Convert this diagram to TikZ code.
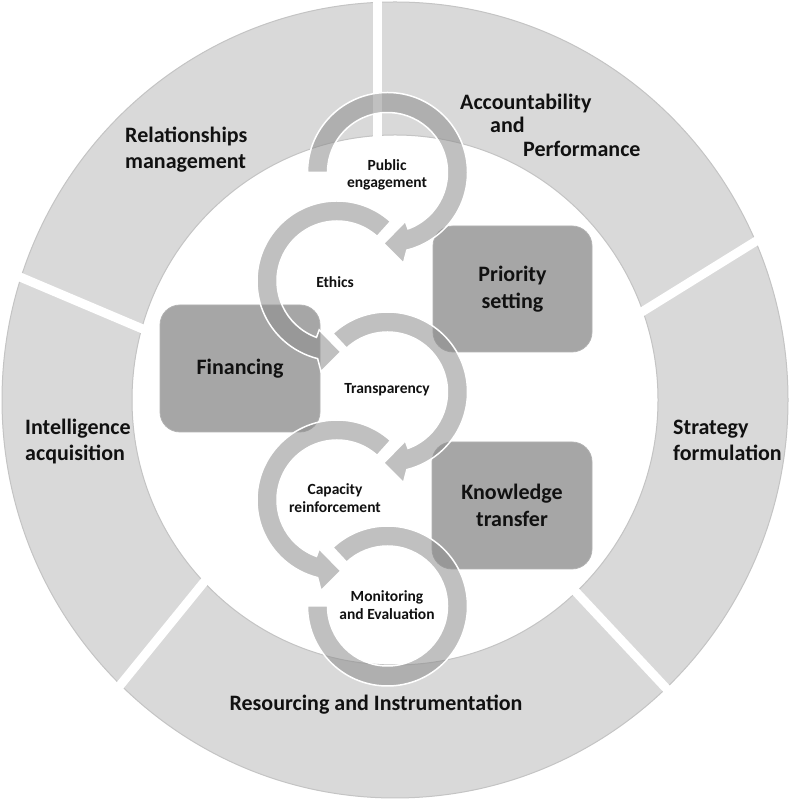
\documentclass[tikz,border=0pt]{standalone}
\usepackage{fontspec}
\setmainfont{Carlito}
\definecolor{ringc}{HTML}{D9D9D9}
\definecolor{ringedge}{HTML}{C4C4C4}
\definecolor{boxc}{HTML}{A6A6A6}
\definecolor{boxedge}{HTML}{B2B2B2}
\definecolor{arrc}{HTML}{8D8D8D}
\definecolor{txt}{HTML}{111111}
\begin{document}
\begin{tikzpicture}[x=1pt,y=1pt,
  ringlabel/.style={font=\bfseries\fontsize{22}{26}\selectfont, text=txt, align=left, inner sep=0pt},
  boxlabel/.style={font=\bfseries\fontsize{22}{27}\selectfont, text=txt, align=center, inner sep=0pt,
     fill=boxc, draw=boxedge, line width=0.8pt, rounded corners=20pt},
  arclabel/.style={font=\bfseries\fontsize{15.5}{17.5}\selectfont, text=txt, align=center, inner sep=0pt},
  arrowshape/.style={fill=arrc, fill opacity=0.55, draw=white, line width=1.5pt, line join=miter},
  gapline/.style={draw=white, line width=9pt},
  cwarrow/.pic={\path[arrowshape] (#1:80) arc[start angle=#1, end angle=-76, radius=80]
      -- (-80:92) -- (-93:71) -- (-70:52) -- (-70:60)
      arc[start angle=-70, end angle=#1, radius=60] -- cycle;},
  ccwarrow/.pic={\path[arrowshape] (#1:80) arc[start angle=#1, end angle=256, radius=80]
      -- (260:92) -- (273:71) -- (250:52) -- (250:60)
      arc[start angle=250, end angle=#1, radius=60] -- cycle;},
  lastarrow/.pic={\path[arrowshape] (133:80) arc[start angle=133, end angle=-180, radius=80]
      -- (180:60) arc[start angle=-180, end angle=133, radius=60] -- cycle;}
]
\useasboundingbox (0,0) rectangle (789,800);
\fill[white] (0,0) rectangle (789,800);

% outer ring
\coordinate (O) at (395,400);
\path[fill=ringc, draw=ringedge, line width=1pt, even odd rule]
  (O) ellipse[x radius=393, y radius=398] (O) ellipse[x radius=263, y radius=265];

% gaps between ring segments
\coordinate (g1a) at (377,806);   \coordinate (g1b) at (377,640);
\coordinate (g2a) at (1.6,530.8); \coordinate (g2b) at (156.4,465.2);
\coordinate (g3a) at (212.6,228.5); \coordinate (g3b) at (109.4,101.5);
\coordinate (g4a) at (563.3,221.6); \coordinate (g4b) at (676.7,100.4);
\coordinate (g5a) at (628,479.5); \coordinate (g5b) at (770,567.5);
\draw[gapline] (g1a) -- (g1b);
\draw[gapline] (g2a) -- (g2b);
\draw[gapline] (g3a) -- (g3b);
\draw[gapline] (g4a) -- (g4b);
\draw[gapline] (g5a) -- (g5b);

% ring labels
\node[ringlabel, anchor=west] (rel) at (125,650) {Relationships\\management};
\node[ringlabel, anchor=west, font=\bfseries\fontsize{22}{23.5}\selectfont] (acc) at (460,675)
  {Accountability\\\hspace*{30pt}and\\\hspace*{63pt}Performance};
\node[ringlabel, anchor=west] (int) at (25,358) {Intelligence\\acquisition};
\node[ringlabel, anchor=west] (str) at (673,360) {Strategy\\formulation};
\node[ringlabel] (res) at (376,95) {Resourcing and Instrumentation};

% boxes
\node[boxlabel, minimum width=159, minimum height=126] (prio) at (512.5,511) {Priority\\setting};
\node[boxlabel, minimum width=160, minimum height=127] (fin) at (240,431.5) {Financing};
\node[boxlabel, minimum width=160, minimum height=127] (know) at (512,294.5) {Knowledge\\transfer};

% circular arrows
\pic (ape) at (387.5,627.5) {cwarrow=180};
\pic (aet) at (337,519) {ccwarrow=48};
\pic (atr) at (387.5,408) {cwarrow=133};
\pic (aca) at (337,300) {ccwarrow=48};
\pic (amo) at (387.5,194) {lastarrow};

% arrow labels
\node[arclabel] (tpe) at (387,625) {Public\\engagement};
\node[arclabel] (tet) at (335,518) {Ethics};
\node[arclabel] (ttr) at (387,410) {Transparency};
\node[arclabel] (tca) at (335,302) {Capacity\\reinforcement};
\node[arclabel] (tmo) at (387,195) {Monitoring\\and Evaluation};
\end{tikzpicture}
\end{document}
